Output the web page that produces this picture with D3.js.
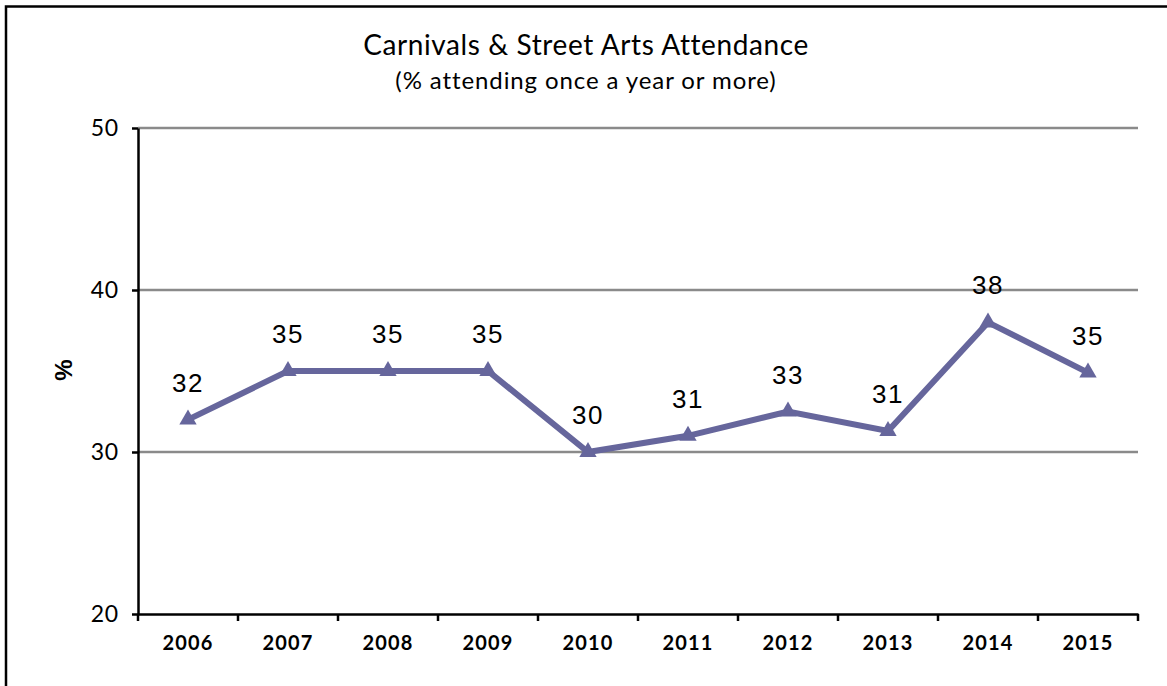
<!DOCTYPE html>
<html>
<head>
<meta charset="utf-8">
<script src="https://cdn.jsdelivr.net/npm/d3@7"></script>
<style>
  html, body { margin: 0; padding: 0; background: #fff; }
  svg { display: block; }
</style>
</head>
<body>
<svg id="chart" width="1167" height="686"></svg>
<script>
// Attendance at carnivals & street arts, % attending once a year or more
const years = ["2006", "2007", "2008", "2009", "2010", "2011", "2012", "2013", "2014", "2015"];
const attendance = [32, 35, 35, 35, 30, 31, 32.5, 31.3, 38, 34.9];
const yTicks = [20, 30, 40, 50];

const titleText = "Carnivals & Street Arts Attendance";
const subtitleText = "(% attending once a year or more)";
const yLabel = "%";

const svg = d3.select("#chart");
const W = 1167, H = 686;
const margin = { left: 138, right: 29, top: 128, bottom: 72 };

const uiFont = "'Lato', 'Open Sans', sans-serif";
const numFont = "'Liberation Sans', Arial, sans-serif";

// frame
svg.append("rect")
  .attr("x", 6).attr("y", 6.5)
  .attr("width", W + 10).attr("height", H + 10)
  .attr("fill", "#fff").attr("stroke", "#000").attr("stroke-width", 2.5);

const x = d3.scaleBand().domain(years).range([margin.left, W - margin.right]);
const y = d3.scaleLinear().domain([20, 50]).range([H - margin.bottom, margin.top]);

// titles
svg.append("text")
  .attr("x", 586).attr("y", 55)
  .attr("text-anchor", "middle")
  .attr("font-family", uiFont).attr("font-size", 28).attr("letter-spacing", 0.6)
  .attr("fill", "#000")
  .text(titleText);
svg.append("text")
  .attr("x", 586).attr("y", 89)
  .attr("text-anchor", "middle")
  .attr("font-family", uiFont).attr("font-size", 24).attr("letter-spacing", 0.9)
  .attr("fill", "#000")
  .text(subtitleText);

// horizontal gridlines
svg.append("g")
  .selectAll("line")
  .data(yTicks.filter(t => t > 20))
  .join("line")
  .attr("x1", margin.left).attr("x2", W - margin.right)
  .attr("y1", d => y(d)).attr("y2", d => y(d))
  .attr("stroke", "#8a8a8a").attr("stroke-width", 2.5);

// y axis
const yAxis = svg.append("g")
  .attr("transform", `translate(${margin.left},0)`)
  .call(d3.axisLeft(y).tickValues(yTicks).tickSize(6).tickSizeOuter(0).tickPadding(13));
yAxis.select(".domain").attr("stroke", "#000").attr("stroke-width", 2.5);
yAxis.selectAll(".tick line").attr("stroke", "#000").attr("stroke-width", 2.5);
yAxis.selectAll(".tick text")
  .attr("font-family", uiFont).attr("font-size", 23).attr("letter-spacing", 0.8).attr("fill", "#000");

// x axis with ticks at category boundaries
const xAxis = svg.append("g")
  .attr("transform", `translate(0,${H - margin.bottom})`)
  .call(d3.axisBottom(x).tickSize(0).tickPadding(22));
xAxis.select(".domain").attr("stroke", "#000").attr("stroke-width", 2.5);
xAxis.selectAll(".tick text")
  .attr("font-family", uiFont).attr("font-size", 20).attr("font-weight", "bold")
  .attr("letter-spacing", 1.2).attr("fill", "#000");
xAxis.selectAll(".boundary")
  .data(years.concat(["end"]))
  .join("line")
  .attr("class", "boundary")
  .attr("x1", (d, i) => margin.left + i * x.step())
  .attr("x2", (d, i) => margin.left + i * x.step())
  .attr("y1", 0).attr("y2", 7)
  .attr("stroke", "#000").attr("stroke-width", 2.5);

// y axis title
svg.append("text")
  .attr("transform", "translate(72,370) rotate(-90)")
  .attr("text-anchor", "middle")
  .attr("font-family", numFont).attr("font-size", 24).attr("font-weight", "bold")
  .attr("fill", "#000")
  .text(yLabel);

// series line
const cx = d => x(d) + x.bandwidth() / 2;
const pts = years.map((yr, i) => ({ yr, v: attendance[i] }));
const lineColor = "#66669c";

svg.append("path")
  .datum(pts)
  .attr("fill", "none")
  .attr("stroke", lineColor).attr("stroke-width", 6).attr("stroke-linejoin", "miter")
  .attr("d", d3.line().x(d => cx(d.yr)).y(d => y(d.v)));

// triangle markers
svg.append("g")
  .selectAll("path")
  .data(pts)
  .join("path")
  .attr("transform", d => `translate(${cx(d.yr)},${y(d.v)})`)
  .attr("d", d3.symbol(d3.symbolTriangle, 130)())
  .attr("fill", lineColor);

// value labels
svg.append("g")
  .selectAll("text")
  .data(pts)
  .join("text")
  .attr("x", d => cx(d.yr))
  .attr("y", d => y(d.v) - 28)
  .attr("text-anchor", "middle")
  .attr("font-family", numFont).attr("font-size", 26).attr("letter-spacing", 1.5)
  .attr("fill", "#000")
  .text(d => d3.format(".0f")(d.v));
</script>
</body>
</html>
